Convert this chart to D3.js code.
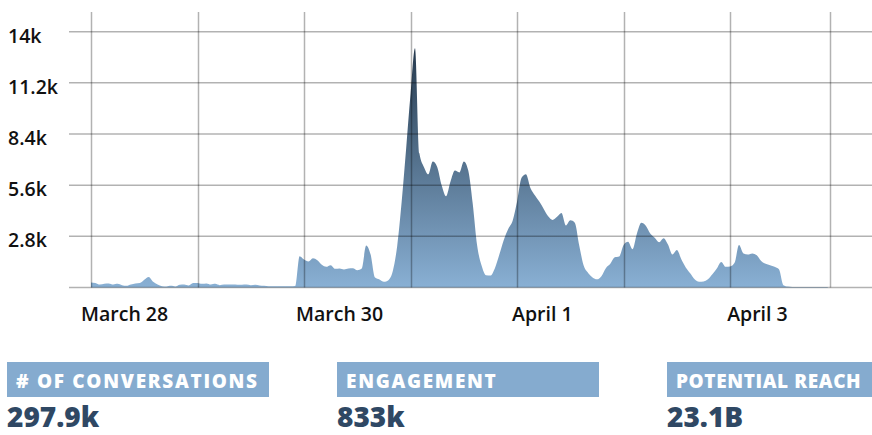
<!DOCTYPE html>
<html>
<head>
<meta charset="utf-8">
<script src="https://cdn.jsdelivr.net/npm/d3@7"></script>
<style>
  body { margin: 0; background: #fff; }
  svg { display: block; font-family: "Open Sans", sans-serif; }
</style>
</head>
<body>
<svg id="graph" width="872" height="435"></svg>
<script>
(function() {
// hourly conversation counts, starting March 28 00:00
const startTime = Date.UTC(2016, 2, 28);
const conversations = [
  280, 250, 160, 200, 220, 160, 200, 130, 90, 160, 220, 240,
  420, 580, 310, 160, 70, 50, 90, 50, 150, 160, 110, 240,
  250, 200, 220, 160, 200, 130, 160, 160, 160, 150, 150, 160,
  130, 150, 110, 90, 70, 70, 70, 70, 70, 70, 80, 1710,
  1530, 1420, 1600, 1490, 1240, 1130, 1220, 1020, 1040, 990, 1040, 1060,
  950, 1040, 2300, 1800, 550, 440, 310, 400, 900, 2300, 4700, 7600,
  10600, 13100, 7330, 6600, 6200, 6900, 6600, 5600, 5000, 5800, 6400, 6300,
  6900, 6400, 4600, 2300, 1200, 670, 650, 1050, 1800, 2600, 3200, 3650,
  4700, 6000, 6200, 5450, 5050, 4700, 4300, 3900, 3700, 3870, 4080, 3400,
  3680, 3550, 2300, 1200, 800, 550, 450, 620, 1060, 1300, 1650, 1700,
  2320, 2500, 2100, 2960, 3550, 3380, 2950, 2720, 2480, 2700, 2350, 1800,
  2050, 1550, 1100, 780, 450, 310, 330, 450, 720, 1040, 1400, 1130,
  1150, 1350, 2320, 1860, 1800, 1860, 1770, 1450, 1300, 1220, 1140, 1000,
  130, 50, 30, 30, 30, 30, 30, 30, 30, 30, 30
];
const yTicks = [2800, 5600, 8400, 11200, 14000];
const yTickLabels = ['2.8k', '5.6k', '8.4k', '11.2k', '14k'];
const xLabelDays = [0, 2, 4, 6]; // days after March 28
const xLabels = ['March 28', 'March 30', 'April 1', 'April 3'];
const statTitles = ['# OF CONVERSATIONS', 'ENGAGEMENT', 'POTENTIAL REACH'];
const statValues = ['297.9k', '833k', '23.1B'];

const hour = 3600 * 1000;
const data = conversations.map((v, i) => ({ t: new Date(startTime + i * hour), v: v }));

const svg = d3.select('#graph');
const x_left = 91;
const x_right = 830;
const y_bottom = 287.5;
const y_top = 31.7;

const x_scale = d3.scaleUtc()
  .domain([new Date(startTime), new Date(startTime + 166.5 * hour)])
  .range([x_left, x_right]);

const y_scale = d3.scaleLinear()
  .domain([0, 14000])
  .range([y_bottom, y_top]);

// gradient fill for the area
const grad = svg.append('defs').append('linearGradient')
  .attr('id', 'areaGrad')
  .attr('gradientUnits', 'userSpaceOnUse')
  .attr('x1', 0).attr('x2', 0)
  .attr('y1', 45).attr('y2', y_bottom);
grad.append('stop').attr('offset', '0%').attr('stop-color', '#24384c');
grad.append('stop').attr('offset', '100%').attr('stop-color', '#89b0d4');

const area = d3.area()
  .x(d => x_scale(d.t))
  .y0(y_bottom)
  .y1(d => y_scale(d.v))
  .curve(d3.curveMonotoneX);

svg.append('path')
  .attr('d', area(data))
  .attr('fill', 'url(#areaGrad)');

// grid, drawn over the area
const grid = svg.append('g')
  .attr('stroke', '#000')
  .attr('stroke-opacity', 0.3)
  .attr('stroke-width', 1.5);

const dayTicks = x_scale.ticks(d3.utcDay.every(1)).concat([x_scale.domain()[1]]);
grid.selectAll('line.v')
  .data(dayTicks)
  .enter().append('line')
  .attr('class', 'v')
  .attr('x1', d => Math.round(x_scale(d)) + 0.5)
  .attr('x2', d => Math.round(x_scale(d)) + 0.5)
  .attr('y1', 12)
  .attr('y2', y_bottom);

grid.selectAll('line.h')
  .data([0].concat(yTicks))
  .enter().append('line')
  .attr('class', 'h')
  .attr('x1', 69)
  .attr('x2', 872)
  .attr('y1', d => y_scale(d))
  .attr('y2', d => y_scale(d));

// y labels
svg.selectAll('text.ylab')
  .data(yTicks)
  .enter().append('text')
  .attr('class', 'ylab')
  .attr('x', 8)
  .attr('y', d => y_scale(d) + 11)
  .attr('font-size', 19.5)
  .attr('font-weight', 600)
  .attr('fill', '#111')
  .text((d, i) => yTickLabels[i]);

// x labels
svg.selectAll('text.xlab')
  .data(xLabelDays)
  .enter().append('text')
  .attr('class', 'xlab')
  .attr('x', (d, i) => x_scale(new Date(startTime + d * 24 * hour)) + [-10, -8, -5, -3][i])
  .attr('y', 321)
  .attr('font-size', 19.5)
  .attr('font-weight', 600)
  .attr('fill', '#111')
  .text((d, i) => xLabels[i]);

// stat boxes
const stats = svg.selectAll('g.stat')
  .data(statTitles)
  .enter().append('g')
  .attr('class', 'stat')
  .attr('transform', (d, i) => `translate(${7 + i * 330}, 0)`);

stats.append('rect')
  .attr('x', 0)
  .attr('y', 362)
  .attr('width', 262)
  .attr('height', 35)
  .attr('fill', '#85abcf');

stats.append('text')
  .attr('x', 9)
  .attr('y', 388)
  .attr('font-size', 19)
  .attr('font-weight', 800)
  .attr('letter-spacing', (d, i) => [1.7, 1.7, 0.6][i])
  .attr('fill', '#fff')
  .text(d => d);

stats.append('text')
  .attr('x', 0)
  .attr('y', 427)
  .attr('font-size', 28)
  .attr('font-weight', 800)
  .attr('fill', '#2f4864')
  .text((d, i) => statValues[i]);
})();
</script>
</body>
</html>
